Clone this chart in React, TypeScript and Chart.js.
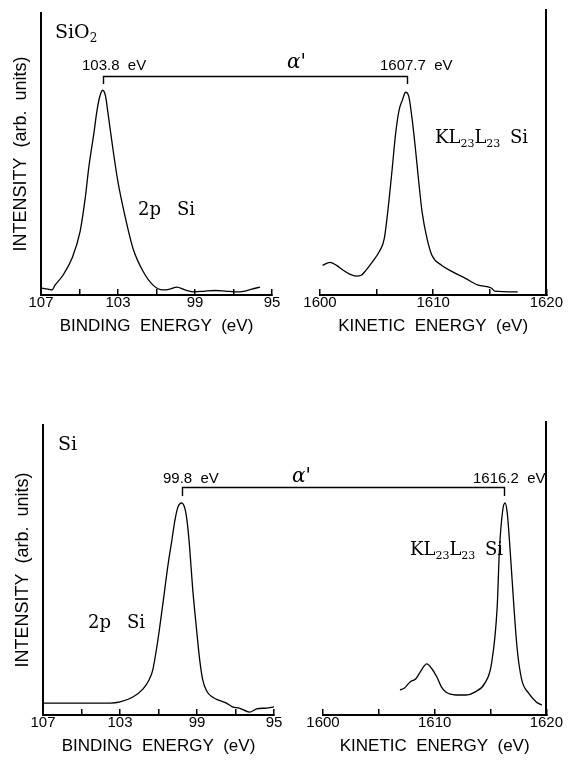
import React, { useEffect, useRef } from "react";
import { Chart, registerables } from "chart.js";

Chart.register(...registerables);

const PAGE_W = 568;
const PAGE_H = 760;

// ---------------- data ----------------
// SiO2, Si 2p photoelectron peak vs binding energy (eV)
const SIO2_2P_BE = [107.0, 106.64, 106.43, 106.27, 105.86, 105.39, 104.97, 104.71, 104.51, 104.25, 104.1, 103.95, 103.8, 103.65, 103.52, 103.26, 103.0, 102.64, 102.22, 101.7, 101.18, 100.66, 100.3, 99.94, 99.52, 99.0, 98.48, 97.96, 97.44, 96.92, 96.4, 96.04, 95.62];
const SIO2_2P_INT = [2.5, 2.1, 1.8, 3.5, 7.0, 13.0, 22.5, 34.0, 45.6, 57.5, 65.0, 70.3, 72.6, 70.6, 64.5, 51.6, 40.0, 28.1, 16.5, 8.4, 3.5, 1.8, 2.1, 2.8, 1.8, 1.1, 1.4, 1.6, 1.4, 1.1, 1.4, 2.1, 2.8];

// SiO2, KL23L23 Auger peak vs kinetic energy (eV)
const SIO2_KLL_KE = [1600.23, 1600.87, 1601.46, 1602.04, 1602.62, 1603.2, 1603.64, 1604.07, 1604.66, 1605.24, 1605.68, 1606.11, 1606.4, 1606.69, 1606.99, 1607.28, 1607.57, 1607.86, 1608.15, 1608.44, 1608.73, 1609.02, 1609.46, 1609.9, 1610.77, 1611.64, 1612.81, 1613.97, 1615.14, 1615.43, 1617.47];
const SIO2_KLL_INT = [10.5, 11.6, 10.5, 8.8, 7.4, 6.7, 7.0, 8.8, 11.9, 15.4, 20.0, 34.0, 45.6, 57.5, 65.6, 69.1, 71.9, 70.2, 62.1, 51.6, 40.0, 29.5, 20.0, 14.0, 10.5, 8.4, 6.0, 3.5, 2.5, 1.4, 1.1];

// Si, Si 2p peak vs binding energy (eV)
const SI_2P_BE = [107.0, 105.0, 103.5, 103.0, 102.33, 101.8, 101.5, 101.3, 101.04, 100.8, 100.5, 100.3, 100.15, 100.0, 99.8, 99.62, 99.5, 99.38, 99.23, 99.02, 98.86, 98.7, 98.5, 98.2, 97.47, 97.16, 96.8, 96.27, 95.9, 95.4, 95.0];
const SI_2P_INT = [4.1, 4.1, 4.1, 4.5, 6.2, 9.0, 12.0, 15.5, 25.5, 37.0, 52.0, 60.5, 67.0, 71.5, 73.1, 71.0, 66.0, 57.5, 44.0, 29.3, 19.0, 12.0, 8.3, 6.2, 4.1, 2.8, 2.4, 1.0, 2.1, 2.4, 2.8];

// Si, KL23L23 Auger peak vs kinetic energy (eV)
const SI_KLL_KE = [1606.9, 1607.3, 1607.8, 1608.3, 1608.7, 1609.3, 1609.7, 1610.2, 1610.6, 1611.0, 1611.9, 1612.8, 1613.6, 1614.5, 1615.1, 1615.6, 1615.8, 1616.1, 1616.3, 1616.5, 1616.8, 1617.1, 1617.4, 1617.8, 1618.4, 1619.1, 1619.6];
const SI_KLL_INT = [8.6, 9.3, 11.4, 12.4, 14.8, 17.6, 16.2, 13.1, 9.7, 7.9, 6.9, 6.9, 7.9, 11.0, 17.9, 37.2, 56.9, 70.7, 73.1, 69.7, 54.5, 37.2, 22.4, 12.1, 7.6, 4.5, 3.4];

// axes
const BINDING_RANGE = [95, 107];
const KINETIC_RANGE = [1600, 1620];
const BINDING_STEP = 2;
const KINETIC_STEP = 5;
const BINDING_TICK_LABELS = [107, 103, 99, 95];
const KINETIC_TICK_LABELS = [1600, 1610, 1620];

// marked peak positions: [binding energy, kinetic energy]
const SIO2_PEAKS = [103.8, 1607.7];
const SI_PEAKS = [99.8, 1616.2];
const SIO2_PEAK_LABELS = ["103.8  eV", "1607.7  eV"];
const SI_PEAK_LABELS = ["99.8  eV", "1616.2  eV"];

// ---------------- layout ----------------
type Box = { left: number; right: number; top: number; bottom: number };
const BOX_TL: Box = { left: 41, right: 272, top: 13, bottom: 295 };
const BOX_TR: Box = { left: 320, right: 549, top: 10, bottom: 295 };
const BOX_BL: Box = { left: 43, right: 274, top: 425, bottom: 715 };
const BOX_BR: Box = { left: 323, right: 553, top: 422, bottom: 715 };

const X_AXIS_H = 50;
const Y_AXIS_W = 32;
const RIGHT_AXIS_W = 2;
const SANS = "'Liberation Sans', Arial, sans-serif";
const SERIF = "'DejaVu Serif', serif";

type Part = [string, boolean];

function drawRuns(ctx: CanvasRenderingContext2D, x: number, y: number, parts: Part[], size: number) {
  let cx = x;
  for (const [s, sub] of parts) {
    const sz = sub ? Math.round(size * 0.62) : size;
    ctx.font = `${sz}px ${SERIF}`;
    ctx.fillText(s, cx, sub ? y + Math.round(size * 0.2) : y);
    cx += ctx.measureText(s).width;
  }
  return cx;
}

type PanelText = {
  title: Part[];
  titleX: number;
  titleY: number;
  beLabelX: number;
  keLabelX: number;
  labelY: number;
  alphaX: number;
  alphaY: number;
  bracketY: number;
  bracketTick: number;
  p2X: number;
  p2Y: number;
  kllX: number;
  kllY: number;
};

const TOP_TEXT: PanelText = {
  title: [["SiO", false], ["2", true]],
  titleX: 55,
  titleY: 38,
  beLabelX: 82,
  keLabelX: 380,
  labelY: 70,
  alphaX: 287,
  alphaY: 68,
  bracketY: 76,
  bracketTick: 8,
  p2X: 138,
  p2Y: 215,
  kllX: 435,
  kllY: 143,
};

const BOTTOM_TEXT: PanelText = {
  title: [["Si", false]],
  titleX: 58,
  titleY: 450,
  beLabelX: 163,
  keLabelX: 473,
  labelY: 483,
  alphaX: 292,
  alphaY: 482,
  bracketY: 487,
  bracketTick: 9,
  p2X: 88,
  p2Y: 628,
  kllX: 410,
  kllY: 555,
};

function makeOverlay(getLeft: () => Chart | null, peaks: number[], labels: string[], t: PanelText) {
  return {
    id: "panelOverlay",
    afterDraw(chart: Chart) {
      const left = getLeft();
      if (!left) return;
      const ctx = chart.ctx;
      const xL = (left.scales as any).x.getPixelForValue(peaks[0]);
      const xR = (chart.scales as any).x.getPixelForValue(peaks[1]);
      ctx.save();
      ctx.fillStyle = "#000";
      ctx.strokeStyle = "#000";
      ctx.lineWidth = 1.4;
      ctx.beginPath();
      ctx.moveTo(Math.round(xL) + 0.5, t.bracketY + t.bracketTick);
      ctx.lineTo(Math.round(xL) + 0.5, t.bracketY + 0.5);
      ctx.lineTo(Math.round(xR) + 0.5, t.bracketY + 0.5);
      ctx.lineTo(Math.round(xR) + 0.5, t.bracketY + t.bracketTick);
      ctx.stroke();

      ctx.textBaseline = "alphabetic";
      ctx.textAlign = "left";
      // panel title
      drawRuns(ctx, t.titleX, t.titleY, t.title, 19);
      // peak energy labels
      ctx.font = `15px ${SANS}`;
      ctx.fillText(labels[0], t.beLabelX, t.labelY);
      ctx.fillText(labels[1], t.keLabelX, t.labelY);
      // alpha'
      ctx.font = `italic 20px ${SERIF}`;
      ctx.fillText("\u03b1'", t.alphaX, t.alphaY);
      // 2p Si
      ctx.font = `18px ${SERIF}`;
      ctx.fillText("2p", t.p2X, t.p2Y);
      ctx.fillText("Si", t.p2X + 39, t.p2Y);
      // KL23L23 Si
      drawRuns(ctx, t.kllX, t.kllY, [["KL", false], ["23", true], ["L", false], ["23", true]], 18);
      ctx.font = `18px ${SERIF}`;
      ctx.fillText("Si", t.kllX + 75, t.kllY);
      ctx.restore();
    },
  };
}

type ChartOpts = {
  box: Box;
  xs: number[];
  ys: number[];
  kind: "binding" | "kinetic";
  side: "left" | "right";
  yMax: number;
  overlay?: any;
};

function buildChart(canvas: HTMLCanvasElement, o: ChartOpts) {
  const binding = o.kind === "binding";
  const range = binding ? BINDING_RANGE : KINETIC_RANGE;
  const tickLabels = binding ? BINDING_TICK_LABELS : KINETIC_TICK_LABELS;
  const yW = o.side === "left" ? Y_AXIS_W : RIGHT_AXIS_W;
  const padding = {
    left: o.side === "left" ? o.box.left - yW : o.box.left,
    right: o.side === "left" ? PAGE_W - o.box.right : PAGE_W - o.box.right - yW,
    top: o.box.top,
    bottom: PAGE_H - o.box.bottom - X_AXIS_H,
  };
  return new Chart(canvas, {
    type: "line",
    data: {
      datasets: [
        {
          data: o.xs.map((x, i) => ({ x, y: o.ys[i] })),
          borderColor: "#000",
          borderWidth: 1.3,
          pointRadius: 0,
          fill: false,
          cubicInterpolationMode: "monotone",
        },
      ],
    },
    options: {
      responsive: false,
      maintainAspectRatio: false,
      animation: false,
      devicePixelRatio: 1,
      events: [],
      layout: { padding },
      plugins: {
        legend: { display: false },
        tooltip: { enabled: false },
        title: { display: false },
      },
      scales: {
        x: {
          type: "linear",
          position: "bottom",
          min: range[0],
          max: range[1],
          reverse: binding,
          afterFit: (s: any) => {
            s.height = X_AXIS_H;
          },
          border: { display: true, color: "#000", width: 2 },
          grid: {
            display: true,
            drawOnChartArea: false,
            drawTicks: true,
            tickLength: -6,
            color: "#000",
            lineWidth: 1.5,
          },
          ticks: {
            stepSize: binding ? BINDING_STEP : KINETIC_STEP,
            autoSkip: false,
            maxRotation: 0,
            minRotation: 0,
            padding: 5,
            color: "#000",
            font: { family: SANS, size: 15 },
            callback: (v: any) => (tickLabels.includes(Number(v)) ? String(v) : ""),
          },
          title: {
            display: true,
            text: binding ? "BINDING  ENERGY  (eV)" : "KINETIC  ENERGY  (eV)",
            color: "#000",
            font: { family: SANS, size: 17 },
            padding: { top: 0, bottom: 8 },
          },
        },
        y: {
          type: "linear",
          position: o.side,
          min: 0,
          max: o.yMax,
          afterFit: (s: any) => {
            s.width = yW;
          },
          border: { display: true, color: "#000", width: 2 },
          grid: { display: true, drawOnChartArea: false, drawTicks: false },
          ticks: { display: false },
          title:
            o.side === "left"
              ? {
                  display: true,
                  text: "INTENSITY  (arb.  units)",
                  color: "#000",
                  font: { family: SANS, size: 18 },
                  padding: { top: 1, bottom: 0 },
                }
              : { display: false },
        },
      },
    } as any,
    plugins: o.overlay ? [o.overlay] : [],
  });
}

export default function App() {
  const tl = useRef<HTMLCanvasElement>(null);
  const tr = useRef<HTMLCanvasElement>(null);
  const bl = useRef<HTMLCanvasElement>(null);
  const br = useRef<HTMLCanvasElement>(null);

  useEffect(() => {
    const charts: Chart[] = [];
    const yMaxFor = (b: Box, ref: Box) => (100 * (b.bottom - b.top)) / (ref.bottom - ref.top);

    const cTL = buildChart(tl.current!, { box: BOX_TL, xs: SIO2_2P_BE, ys: SIO2_2P_INT, kind: "binding", side: "left", yMax: 100 });
    charts.push(cTL);
    const cTR = buildChart(tr.current!, {
      box: BOX_TR,
      xs: SIO2_KLL_KE,
      ys: SIO2_KLL_INT,
      kind: "kinetic",
      side: "right",
      yMax: yMaxFor(BOX_TR, BOX_TL),
      overlay: makeOverlay(() => cTL, SIO2_PEAKS, SIO2_PEAK_LABELS, TOP_TEXT),
    });
    charts.push(cTR);
    const cBL = buildChart(bl.current!, { box: BOX_BL, xs: SI_2P_BE, ys: SI_2P_INT, kind: "binding", side: "left", yMax: 100 });
    charts.push(cBL);
    const cBR = buildChart(br.current!, {
      box: BOX_BR,
      xs: SI_KLL_KE,
      ys: SI_KLL_INT,
      kind: "kinetic",
      side: "right",
      yMax: yMaxFor(BOX_BR, BOX_BL),
      overlay: makeOverlay(() => cBL, SI_PEAKS, SI_PEAK_LABELS, BOTTOM_TEXT),
    });
    charts.push(cBR);

    return () => {
      charts.forEach((c) => c.destroy());
    };
  }, []);

  const cv: React.CSSProperties = { position: "absolute", left: 0, top: 0, width: PAGE_W, height: PAGE_H };
  return (
    <div style={{ position: "absolute", left: 0, top: 0, width: PAGE_W, height: PAGE_H, background: "#fff", overflow: "hidden" }}>
      <canvas ref={tl} width={PAGE_W} height={PAGE_H} style={cv} />
      <canvas ref={tr} width={PAGE_W} height={PAGE_H} style={cv} />
      <canvas ref={bl} width={PAGE_W} height={PAGE_H} style={cv} />
      <canvas ref={br} width={PAGE_W} height={PAGE_H} style={cv} />
    </div>
  );
}
